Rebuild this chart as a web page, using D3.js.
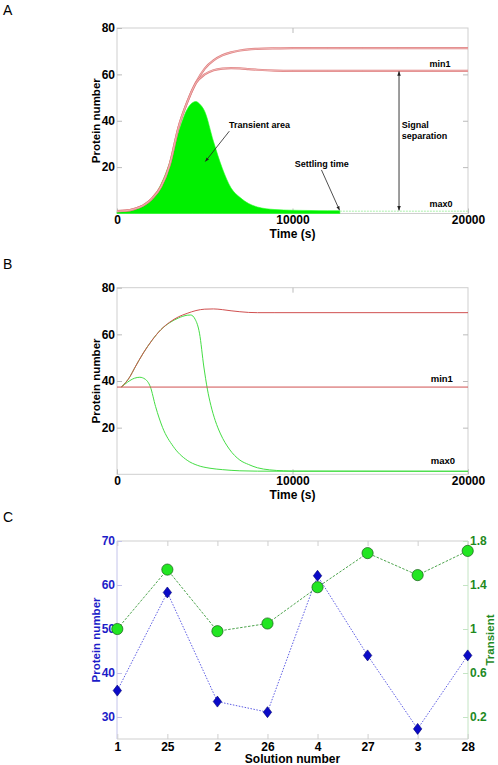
<!DOCTYPE html>
<html><head><meta charset="utf-8">
<script src="https://cdn.jsdelivr.net/npm/d3@7"></script>
<style>
html,body{margin:0;padding:0;background:#fff;}
svg{display:block;font-family:"Liberation Sans",Arial,Helvetica,sans-serif;}
</style></head>
<body>
<svg id="c" width="498" height="765"></svg>
<script>
// ---------- Panel A data ----------
const timeA = [0,500,1000,1500,2000,2500,3000,3500,4000,4500,5000,5500,6000,6500,7000,7500,8000,9000,10000,11000,12000,12700,14000,16000,18000,20000];
const max1A = [1,1.2,2,3.5,6.5,11.5,21,37,48,56.5,62.5,66,68.2,69.5,70.3,70.8,71,71.2,71.3,71.3,71.3,71.3,71.3,71.3,71.3,71.3];
const min1A = [1,1.2,2,3.5,6.5,11.5,21,37,48,56.3,60,61.8,62.5,62.7,62.6,62.3,62,61.6,61.5,61.5,61.5,61.5,61.5,61.5,61.5,61.5];
const transTime = [0,500,1000,1500,2000,2500,3000,3500,4000,4300,4500,4700,5000,5500,6000,6500,7000,7500,8000,9000,10000,11000,12000,12700];
const transA = [0.8,1,1.8,3.5,6.5,12.5,22,35,45,47.8,48.3,47.3,44,31,19.5,11,7,4.3,2.8,1.7,1.4,1.3,1.2,1.2];
const settleTime = [12700,20000];
const settleA = [1.0,1.0];

// ---------- Panel B data ----------
const timeBr = [250,750,1000,1500,2000,2500,3000,3500,4000,4500,5000,5500,6000,6500,7000,7500,8000,9000,20000];
const max1B = [37.4,42,45.5,52,57.5,62,65.2,67.5,69,70.2,70.8,70.9,70.6,70.1,69.7,69.4,69.3,69.3,69.3];
const flatTime = [0,20000];
const min1B = [37.4,37.4];
const timeBg1 = [250,750,1000,1500,2000,2500,3000,3500,4000,4200,4450,4700,4950,5150,5350,5600,5900,6400,7000,7500,8000,8700,9500,10000,20000];
const greenB1 = [37.4,42,45.5,52,57.5,62,65,67,68.2,68.3,66.5,60.5,46,36.5,29.5,23,17.3,10.8,6.1,4.2,2.8,1.9,1.5,1.4,1.3];
const timeBg2 = [250,600,1000,1300,1600,1900,2200,2600,3200,4000,4600,5300,6000,7000,8000,10000,20000];
const greenB2 = [37.4,39.5,41.2,41.6,40.8,37.5,29,20,12,6,3.8,2.6,2,1.5,1.35,1.3,1.3];

// ---------- Panel C data ----------
const solutions = ["1","25","2","26","4","27","3","28"];
const proteinC = [36,58.3,33.5,31.1,62.1,44,27.3,44];
const transientC = [1.0,1.54,0.98,1.05,1.38,1.69,1.49,1.71];

// ---------- ticks ----------
const timeTicks = [0,10000,20000];
const yTicksAB = [20,40,60,80];
const leftTicksC = [30,40,50,60,70];
const rightTicksC = [0.2,0.6,1,1.4,1.8];

const svg = d3.select("#c");
const FONT = '"Liberation Sans",Arial,Helvetica,sans-serif';

const defs = svg.append("defs");
defs.append("marker").attr("id","ah").attr("viewBox","0 0 10 10").attr("refX",10).attr("refY",5)
  .attr("markerWidth",5).attr("markerHeight",5).attr("orient","auto-start-reverse")
  .append("path").attr("d","M0,1 L10,5 L0,9 Z").attr("fill","#222");

const x = d3.scaleLinear().domain([0,20000]).range([117,468]);

function panelFrame(g, y, yTicks, top, bottom){
  g.append("rect").attr("x",117).attr("y",top).attr("width",351).attr("height",bottom-top)
    .attr("fill","none").attr("stroke","#cfcfcf").attr("stroke-width",1);
  const ya = g.append("g").attr("transform","translate(117,0)")
    .call(d3.axisLeft(y).tickValues(yTicks).tickSize(-5).tickPadding(2));
  ya.select(".domain").remove();
  ya.selectAll("line").attr("stroke","#bbb");
  ya.selectAll("text").attr("font-size",12).attr("font-weight","bold").attr("fill","#000").attr("font-family",FONT);
  const yr = g.append("g").attr("transform","translate(468,0)")
    .call(d3.axisRight(y).tickValues(yTicks.filter(v=>v<80)).tickSize(-5).tickFormat(""));
  yr.select(".domain").remove(); yr.selectAll("line").attr("stroke","#bbb");
  const xa = g.append("g").attr("transform",`translate(0,${bottom})`)
    .call(d3.axisBottom(x).tickValues(timeTicks).tickSize(-5).tickPadding(2).tickFormat(d3.format("d")));
  xa.select(".domain").remove();
  xa.selectAll("line").attr("stroke","#bbb");
  xa.selectAll("text").attr("font-size",12).attr("font-weight","bold").attr("fill","#000").attr("font-family",FONT);
  const xt = g.append("g").attr("transform",`translate(0,${top})`)
    .call(d3.axisTop(x).tickValues([10000]).tickSize(-5).tickFormat(""));
  xt.select(".domain").remove(); xt.selectAll("line").attr("stroke","#bbb");
  g.append("text").attr("x",292.5).attr("y",bottom+24.5).attr("text-anchor","middle")
    .attr("font-size",12).attr("font-weight","bold").text("Time (s)");
  g.append("text").attr("transform",`translate(100,${(top+bottom)/2}) rotate(-90)`).attr("text-anchor","middle")
    .attr("font-size",11.5).attr("font-weight","bold").text("Protein number");
}

function line(xs, ys, y, curve){
  return d3.line().x((d,i)=>x(xs[i])).y((d,i)=>y(ys[i])).curve(curve||d3.curveMonotoneX)(ys);
}

// ================= Panel A =================
const yA = d3.scaleLinear().domain([0,80]).range([213.5,28]);
const gA = svg.append("g");
svg.append("text").attr("x",3).attr("y",15).attr("font-size",14).text("A");
panelFrame(gA, yA, yTicksAB, 28, 213.5);

const area = d3.area().x((d,i)=>x(transTime[i])).y0(yA(0)).y1((d,i)=>yA(transA[i])).curve(d3.curveMonotoneX);
gA.append("path").attr("d",area(transA)).attr("fill","#00f000").attr("stroke","#22ff22").attr("stroke-width",0.6);
gA.append("path").attr("d",line(settleTime,settleA,yA)).attr("fill","none").attr("stroke","#aaf0aa").attr("stroke-width",1).attr("stroke-dasharray","2,1");
[max1A,min1A].forEach(s=>{
  gA.append("path").attr("d",line(timeA,s,yA)).attr("fill","none").attr("stroke","#e08080").attr("stroke-width",2.2);
  gA.append("path").attr("d",line(timeA,s,yA)).attr("fill","none").attr("stroke","#fff0f0").attr("stroke-width",0.6).attr("opacity",0.8);
});

function ann(g, y, t, v, txt, size){
  return g.append("text").attr("x",x(t)).attr("y",y(v)).attr("font-size",size||9).attr("font-weight","bold")
    .attr("dominant-baseline","middle").text(txt);
}
ann(gA,yA,6380,37.9,"Transient area");
gA.append("line").attr("x1",x(6400)).attr("y1",yA(35.5)).attr("x2",x(5030)).attr("y2",yA(22.4))
  .attr("stroke","#222").attr("stroke-width",0.8).attr("marker-end","url(#ah)");
ann(gA,yA,10125,20.9,"Settling time");
gA.append("line").attr("x1",x(11650)).attr("y1",yA(18.8)).attr("x2",x(12680)).attr("y2",yA(1.4))
  .attr("stroke","#222").attr("stroke-width",0.8).attr("marker-end","url(#ah)");
gA.append("line").attr("x1",x(16070)).attr("y1",yA(61.3)).attr("x2",x(16070)).attr("y2",yA(1.3))
  .attr("stroke","#222").attr("stroke-width",0.9).attr("marker-start","url(#ah)").attr("marker-end","url(#ah)");
ann(gA,yA,16230,37.8,"Signal");
ann(gA,yA,16230,33.3,"separation");
ann(gA,yA,17800,64.2,"min1");
ann(gA,yA,17800,4,"max0");

// ================= Panel B =================
const yB = d3.scaleLinear().domain([0,80]).range([474.3,287.7]);
const gB = svg.append("g");
svg.append("text").attr("x",3).attr("y",268.5).attr("font-size",14).text("B");
panelFrame(gB, yB, yTicksAB, 287.7, 474.3);
gB.append("path").attr("d",line(timeBg2,greenB2,yB)).attr("fill","none").attr("stroke","#44dd44").attr("stroke-width",1);
gB.append("path").attr("d",line(timeBg1,greenB1,yB)).attr("fill","none").attr("stroke","#44dd44").attr("stroke-width",1);
gB.append("path").attr("d",line(flatTime,min1B,yB)).attr("fill","none").attr("stroke","#d05050").attr("stroke-width",1);
gB.append("path").attr("d",line(timeBr,max1B,yB)).attr("fill","none").attr("stroke","#d05050").attr("stroke-width",1);
ann(gB,yB,17875,40.7,"min1",9.5);
ann(gB,yB,17875,5.4,"max0",9.5);

// ================= Panel C =================
svg.append("text").attr("x",3).attr("y",521.5).attr("font-size",14).text("C");
const gC = svg.append("g");
const xC = d3.scalePoint().domain(solutions).range([117.3,467.7]);
const yL = d3.scaleLinear().domain([25,70]).range([739,541]);
const yR = d3.scaleLinear().domain([0,1.8]).range([739,541]);
const BLUE = "#1c1cc8", GREEN = "#1f8a1f";

gC.append("line").attr("x1",117).attr("x2",468).attr("y1",541).attr("y2",541).attr("stroke","#cfcfcf");
gC.append("line").attr("x1",117).attr("x2",468).attr("y1",739).attr("y2",739).attr("stroke","#cfcfcf");
gC.append("line").attr("x1",117).attr("x2",117).attr("y1",541).attr("y2",739).attr("stroke","#c4c4ea");
gC.append("line").attr("x1",468).attr("x2",468).attr("y1",541).attr("y2",739).attr("stroke","#c4e4c4");

const cl = gC.append("g").attr("transform","translate(117,0)")
  .call(d3.axisLeft(yL).tickValues(leftTicksC).tickSize(-5).tickPadding(2));
cl.select(".domain").remove();
cl.selectAll("line").attr("stroke","#c4c4ea");
cl.selectAll("text").attr("font-size",12).attr("font-weight","bold").attr("fill",BLUE).attr("font-family",FONT);
const cr = gC.append("g").attr("transform","translate(468,0)")
  .call(d3.axisRight(yR).tickValues(rightTicksC).tickSize(-5).tickPadding(2).tickFormat(d=>String(d)));
cr.select(".domain").remove();
cr.selectAll("line").attr("stroke","#c4e4c4");
cr.selectAll("text").attr("font-size",12).attr("font-weight","bold").attr("fill",GREEN).attr("font-family",FONT);
const cb = gC.append("g").attr("transform","translate(0,739)")
  .call(d3.axisBottom(xC).tickSize(-5).tickPadding(3));
cb.select(".domain").remove();
cb.selectAll("line").attr("stroke","#cfcfcf");
cb.selectAll("text").attr("font-size",12).attr("font-weight","bold").attr("fill","#000").attr("font-family",FONT);
const ct = gC.append("g").attr("transform","translate(0,541)")
  .call(d3.axisTop(xC).tickSize(-5).tickFormat(""));
ct.select(".domain").remove(); ct.selectAll("line").attr("stroke","#cfcfcf");

gC.append("text").attr("x",292.5).attr("y",763).attr("text-anchor","middle")
  .attr("font-size",12).attr("font-weight","bold").text("Solution number");
gC.append("text").attr("transform","translate(100,640) rotate(-90)").attr("text-anchor","middle")
  .attr("font-size",11.5).attr("font-weight","bold").attr("fill",BLUE).text("Protein number");
gC.append("text").attr("transform","translate(494,640) rotate(-90)").attr("text-anchor","middle")
  .attr("font-size",11.5).attr("font-weight","bold").attr("fill",GREEN).text("Transient");

gC.append("path").attr("d",d3.line().x((d,i)=>xC(solutions[i])).y(d=>yL(d))(proteinC))
  .attr("fill","none").attr("stroke","#4a4ae0").attr("stroke-width",0.9).attr("stroke-dasharray","1.5,1.5");
gC.append("path").attr("d",d3.line().x((d,i)=>xC(solutions[i])).y(d=>yR(d))(transientC))
  .attr("fill","none").attr("stroke","#3a9a3a").attr("stroke-width",0.9).attr("stroke-dasharray","2.5,1.5");

gC.selectAll("path.dia").data(proteinC).enter().append("path").attr("class","dia")
  .attr("d","M0,-5.5 L4.2,0 L0,5.5 L-4.2,0 Z")
  .attr("transform",(d,i)=>`translate(${xC(solutions[i])},${yL(d)})`)
  .attr("fill","#0a0ac8").attr("stroke","#000070").attr("stroke-width",0.6);
gC.selectAll("circle.tr").data(transientC).enter().append("circle").attr("class","tr")
  .attr("cx",(d,i)=>xC(solutions[i])).attr("cy",d=>yR(d)).attr("r",5.6)
  .attr("fill","#22e622").attr("stroke","#145a14").attr("stroke-width",0.7);
</script>
</body></html>
